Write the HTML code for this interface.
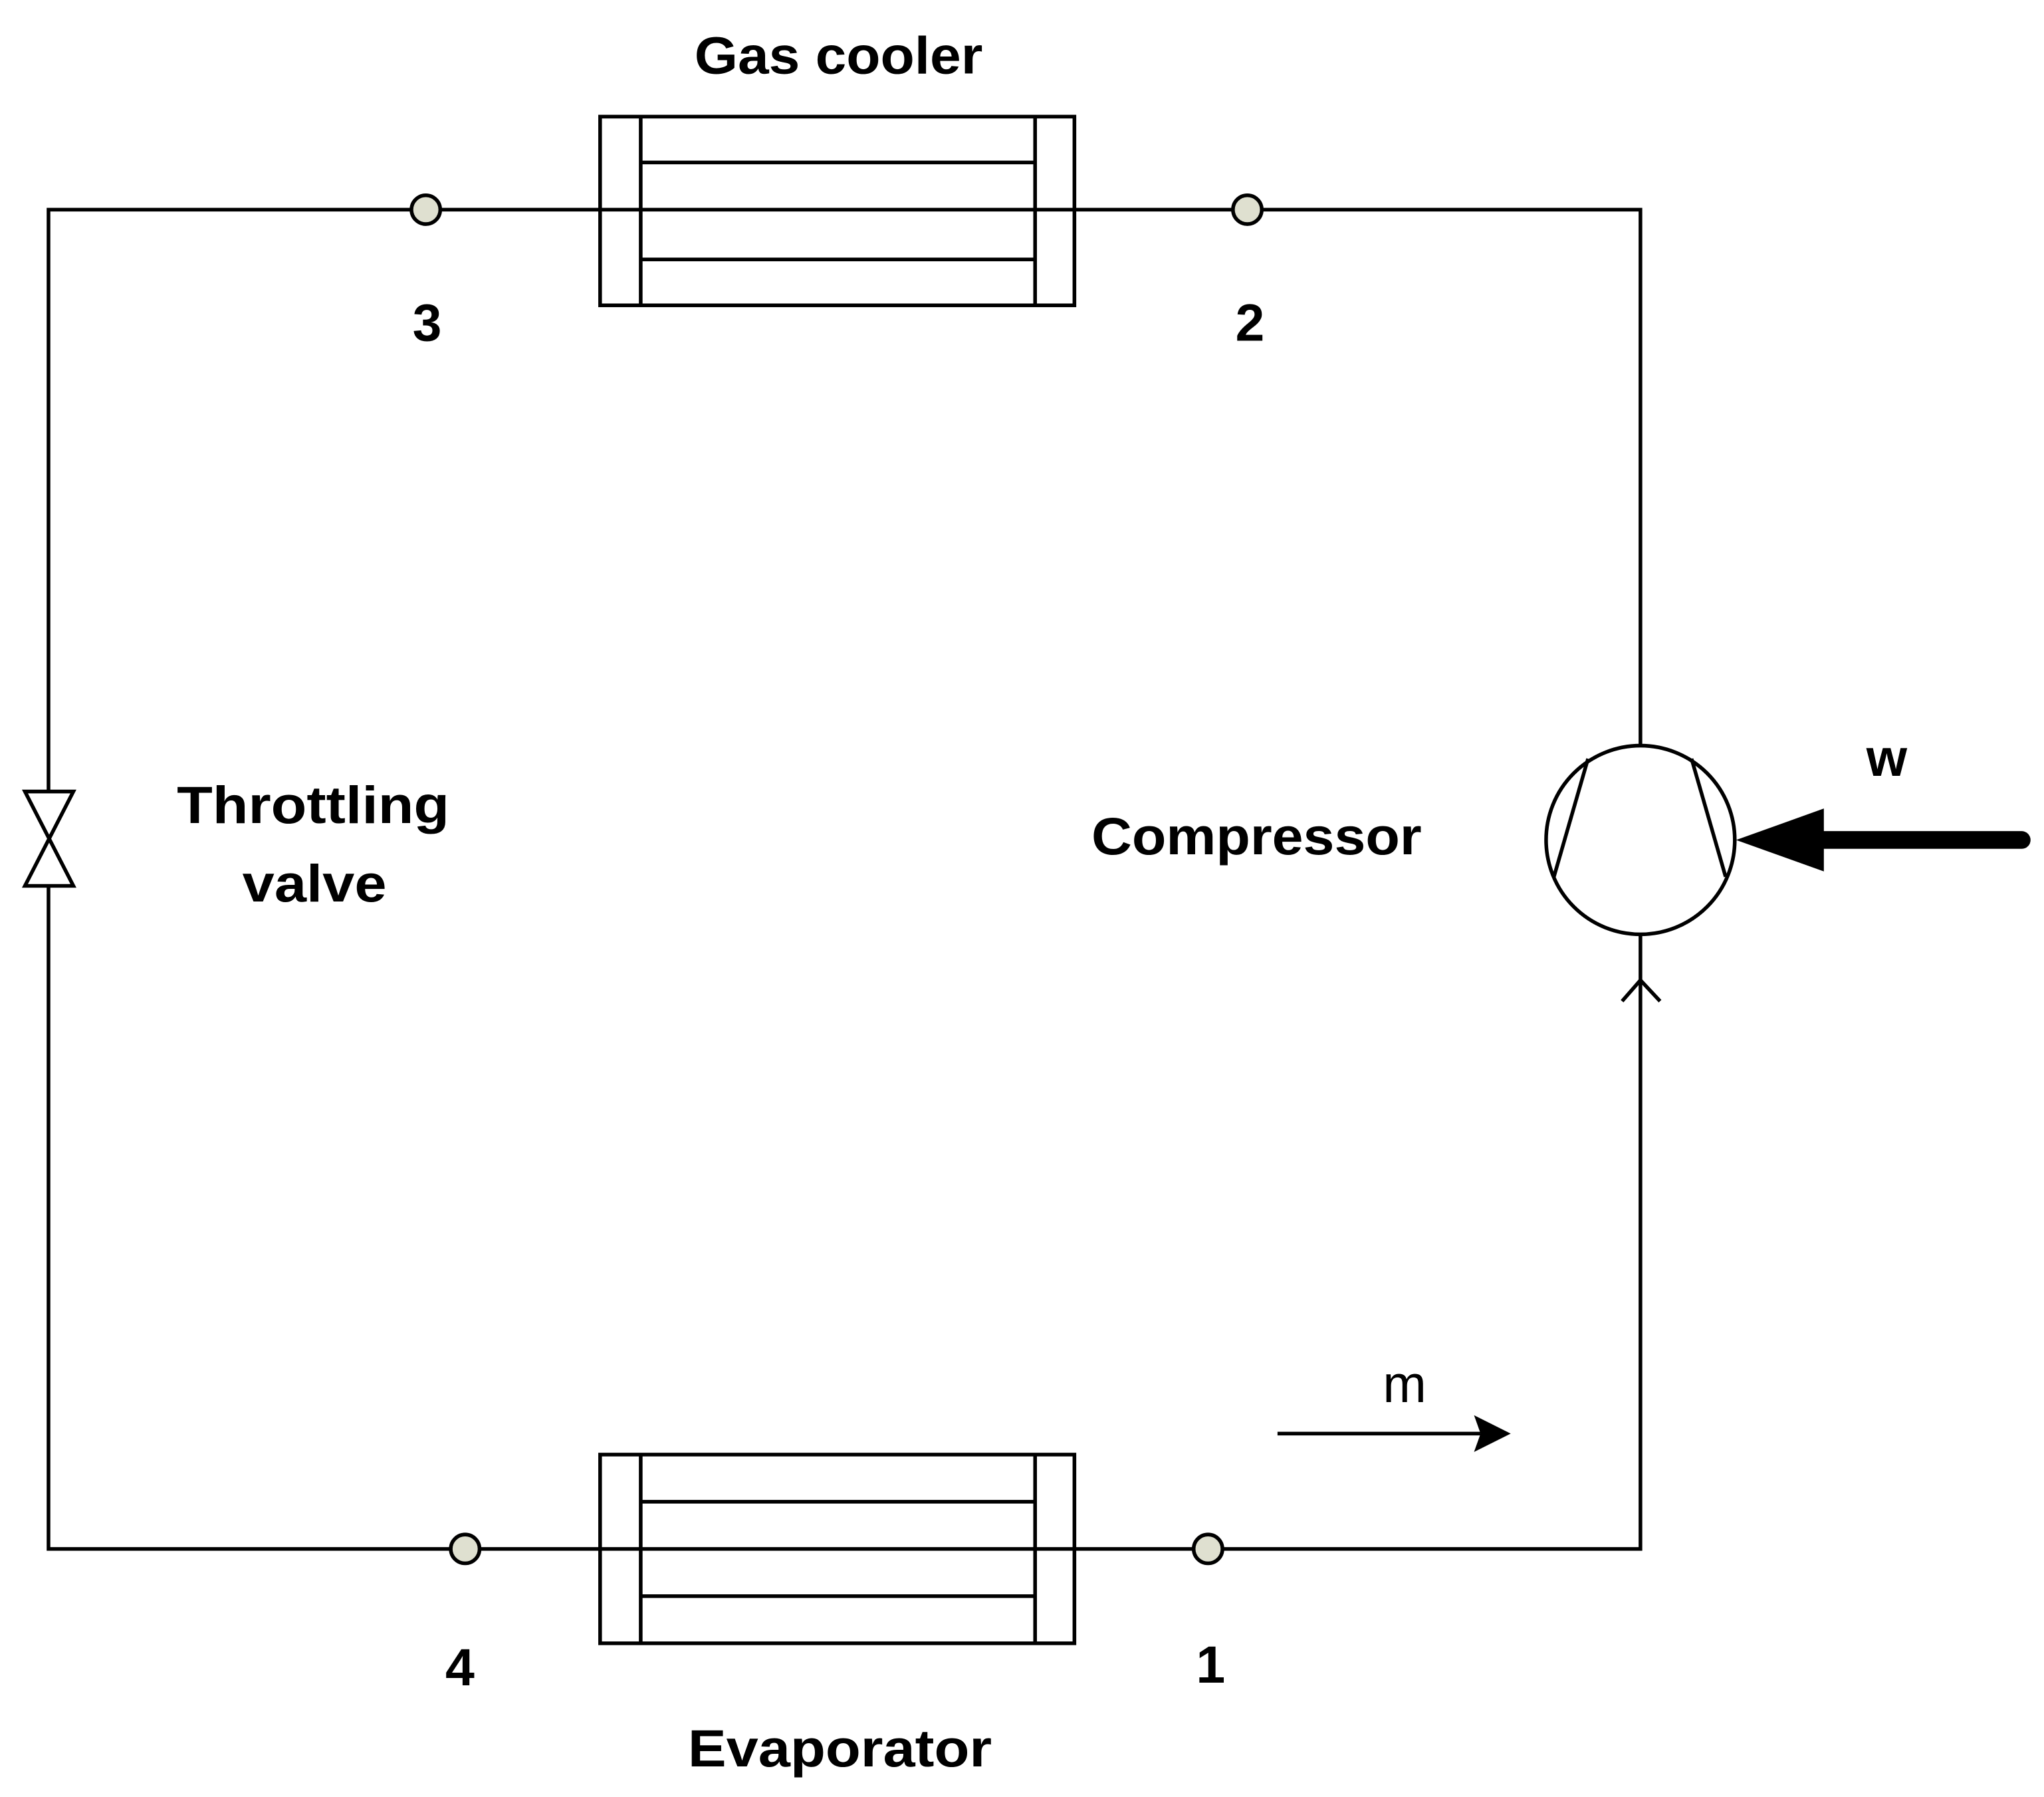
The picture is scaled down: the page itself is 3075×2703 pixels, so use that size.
<!DOCTYPE html>
<html><head><meta charset="utf-8"><style>html,body{margin:0;padding:0;background:#fff}svg{display:block}</style></head>
<body>
<svg width="3075" height="2703" viewBox="0 0 1560 1371.3" xmlns="http://www.w3.org/2000/svg">
<rect x="0" y="0" width="1560" height="1372" fill="#fff"/>
<g fill="none" stroke="#000" stroke-width="2.8">
<!-- loop -->
<polyline points="458,160 37,160 37,604"/>
<polyline points="37,676 37,1182 458,1182"/>
<polyline points="820,160 1252,160 1252,569"/>
<polyline points="820,1182 1252,1182 1252,713"/>
<!-- gas cooler -->
<rect x="458" y="89" width="362" height="144"/>
<line x1="489" y1="89" x2="489" y2="233"/>
<line x1="790" y1="89" x2="790" y2="233"/>
<line x1="489" y1="124" x2="790" y2="124"/>
<line x1="458" y1="160" x2="820" y2="160"/>
<line x1="489" y1="198" x2="790" y2="198"/>
<!-- evaporator -->
<rect x="458" y="1110" width="362" height="144"/>
<line x1="489" y1="1110" x2="489" y2="1254"/>
<line x1="790" y1="1110" x2="790" y2="1254"/>
<line x1="489" y1="1146" x2="790" y2="1146"/>
<line x1="458" y1="1182" x2="820" y2="1182"/>
<line x1="489" y1="1218" x2="790" y2="1218"/>
<!-- valve -->
<polygon points="19,604 56,604 19,676 56,676" fill="#fff"/>
<!-- compressor -->
<circle cx="1252" cy="641" r="72" fill="#fff"/>
<line x1="1212" y1="579" x2="1186" y2="669"/>
<line x1="1291" y1="579" x2="1317" y2="669"/>
<!-- small arrowhead -->
<polyline points="1238,764 1252,748 1267,764"/>
<!-- m arrow -->
<line x1="975" y1="1094" x2="1130" y2="1094"/>
</g>
<polygon points="1153,1094 1125,1080 1130,1094 1125,1108" fill="#000"/>
<!-- w arrow -->
<polygon points="1325,641 1392,617 1392,665" fill="#000"/>
<line x1="1390" y1="641" x2="1543" y2="641" stroke="#000" stroke-width="13.5" stroke-linecap="round"/>
<!-- nodes -->
<g fill="#dfe0d0" stroke="#000" stroke-width="2.8">
<circle cx="325" cy="160" r="11"/>
<circle cx="952" cy="160" r="11"/>
<circle cx="355" cy="1182" r="11"/>
<circle cx="922" cy="1182" r="11"/>
</g>
<g font-family="Liberation Sans, sans-serif" font-weight="bold" font-size="40" fill="#000" text-anchor="middle">
<text x="640" y="56" textLength="220" lengthAdjust="spacingAndGlyphs">Gas cooler</text>
<text x="326" y="260">3</text>
<text x="954" y="260">2</text>
<text x="351" y="1286">4</text>
<text x="924" y="1284">1</text>
<text x="641" y="1348" textLength="232" lengthAdjust="spacingAndGlyphs">Evaporator</text>
<text x="239" y="628" textLength="208" lengthAdjust="spacingAndGlyphs">Throttling</text>
<text x="240" y="688" textLength="110" lengthAdjust="spacingAndGlyphs">valve</text>
<text x="959" y="652" textLength="252" lengthAdjust="spacingAndGlyphs">Compressor</text>
<text x="1440" y="592">w</text>
</g>
<text x="1072" y="1070" font-family="Liberation Sans, sans-serif" font-size="40" text-anchor="middle">m</text>
</svg>
</body></html>
